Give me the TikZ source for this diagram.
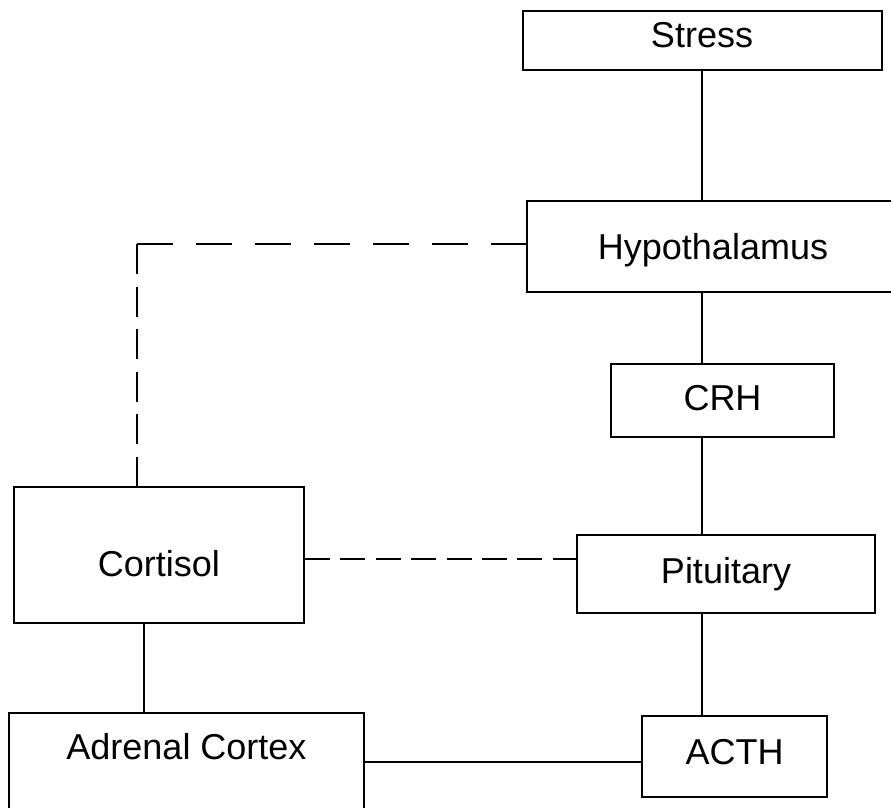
\documentclass[tikz,border=0pt]{standalone}
\usepackage{fontspec}
\setmainfont{Liberation Sans}
\usepackage{tikz}
\usetikzlibrary{positioning,calc}

\begin{document}
\begin{tikzpicture}[x=1pt, y=-1pt,
    organ/.style={draw, line width=2pt, inner sep=0pt, text height=26pt, text depth=0pt,
      font=\fontsize{36}{40}\selectfont},
    link/.style={line width=2pt},
    feedback/.style={line width=2pt, dash pattern=on 36pt off 23pt}]
  \useasboundingbox (0,0) rectangle (891,808);

  \node[organ, minimum width=359, minimum height=59, text depth=12pt] (stress) at (702,40.5) {Stress};
  \node[organ, minimum width=372, minimum height=91] (hypo) at (713,246.5) {Hypothalamus};
  \node[organ, minimum width=223, minimum height=73, text depth=6pt] (crh) at (722.5,400.5) {CRH};
  \node[organ, minimum width=298, minimum height=78, text depth=8pt] (pit) at (726,574) {Pituitary};
  \node[organ, minimum width=185, minimum height=81, text depth=10pt] (acth) at (734.5,756.5) {ACTH};
  \node[organ, minimum width=290, minimum height=136, text height=42pt] (cort) at (159,555) {Cortisol};
  \node[organ, minimum width=355, minimum height=98, text depth=31pt] (adrenal) at (186.5,762) {Adrenal Cortex};
  \coordinate (fbcorner) at (137,244);

  \draw[link] (stress.south) -- (stress.south |- hypo.north);
  \draw[link] (stress.south |- hypo.south) -- (stress.south |- crh.north);
  \draw[link] (stress.south |- crh.south) -- (stress.south |- pit.north);
  \draw[link] (stress.south |- pit.south) -- (stress.south |- acth.north);
  \draw[link] ([xshift=-15pt]cort.south) -- ([xshift=-15pt]cort.south |- adrenal.north);
  \draw[link] (adrenal.east) -- (adrenal.east -| acth.west);

  \draw[feedback] (fbcorner) -- (fbcorner -| hypo.west);
  \draw[feedback, dash pattern=on 30pt off 12.6pt] (fbcorner) -- (fbcorner |- cort.north);
  \draw[feedback, dash pattern=on 25pt off 10.4pt] ([yshift=-4pt]cort.east) -- ([yshift=-4pt]cort.east -| pit.west);
\end{tikzpicture}
\end{document}
